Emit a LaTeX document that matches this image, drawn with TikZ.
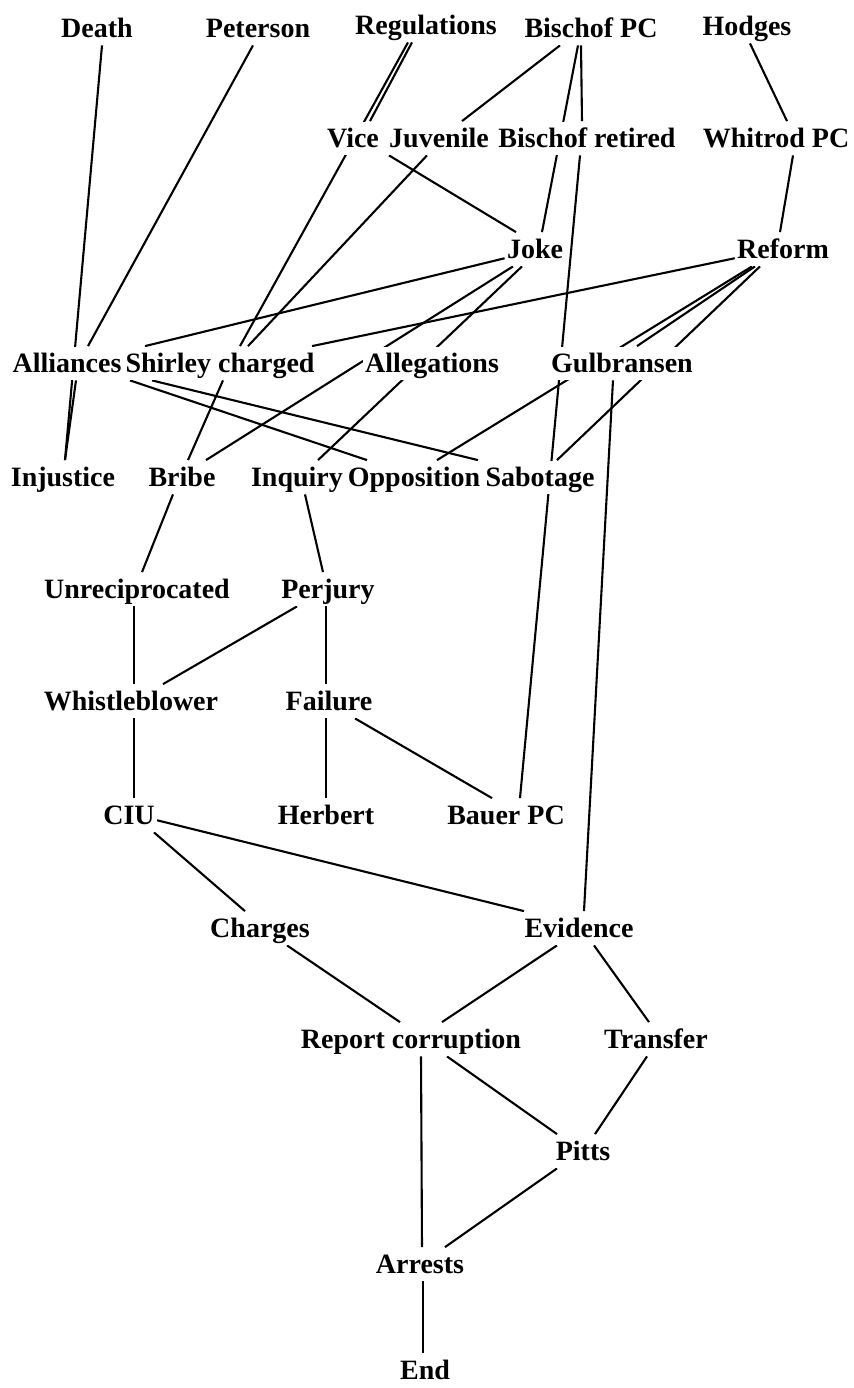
\documentclass[tikz,border=0pt]{standalone}
\usepackage{fontspec}
\setmainfont{Liberation Serif}
\usetikzlibrary{calc,backgrounds}

\tikzset{
  event/.style={font=\fontsize{14}{16}\selectfont\bfseries, fill=white,
    inner xsep=1pt, inner ysep=0pt, text height=12.75pt, text depth=4pt, anchor=base},
  link/.style={line width=1.05pt}
}

\begin{document}
\begin{tikzpicture}[x=0.5pt,y=-0.5pt]
  \useasboundingbox (0,0) rectangle (854,1388);
  % Rank 1
  \node[event] (death) at (97,37) {Death};
  \node[event] (peterson) at (258,37) {Peterson};
  \node[event] (regulations) at (426,34) {Regulations};
  \node[event] (bischofpc) at (591,37) {Bischof PC};
  \node[event] (hodges) at (747,35) {Hodges};
  % Rank 2
  \node[event] (vice) at (353,147) {Vice};
  \node[event] (juvenile) at (439,147) {Juvenile};
  \node[event] (bretired) at (587,147) {Bischof retired};
  \node[event] (whitrod) at (776,147) {Whitrod PC};
  % Rank 3
  \node[event] (joke) at (535,258) {Joke};
  \node[event] (reform) at (783,258) {Reform};
  % Rank 4
  \node[event] (alliances) at (67,372) {Alliances};
  \node[event] (shirley) at (220,372) {Shirley charged};
  \node[event] (allegations) at (432,372) {Allegations};
  \node[event] (gulbransen) at (622,372) {Gulbransen};
  % Rank 5
  \node[event] (injustice) at (63,486) {Injustice};
  \node[event] (bribe) at (182,486) {Bribe};
  \node[event] (inquiry) at (297,486) {Inquiry};
  \node[event] (opposition) at (414,486) {Opposition};
  \node[event] (sabotage) at (540,486) {Sabotage};
  % Rank 6 and 7
  \node[event] (unrecip) at (137,598) {Unreciprocated};
  \node[event] (perjury) at (328,598) {Perjury};
  \node[event] (whistle) at (131,710) {Whistleblower};
  \node[event] (failure) at (329,710) {Failure};
  % Rank 8
  \node[event] (ciu) at (129,824) {CIU};
  \node[event] (herbert) at (326,824) {Herbert};
  \node[event] (bauer) at (506,824) {Bauer PC};
  % Rank 9 and 10
  \node[event] (charges) at (260,937) {Charges};
  \node[event] (evidence) at (579,937) {Evidence};
  \node[event] (report) at (411,1048) {Report corruption};
  \node[event] (transfer) at (656,1048) {Transfer};
  % Last ranks
  \node[event] (pitts) at (583,1160) {Pitts};
  \node[event] (arrests) at (420,1273) {Arrests};
  \node[event] (fin) at (425,1379) {End};

  \begin{pgfonlayer}{background}
    % From the top rank
    \draw[link] ($(death.south)+(5,0)$) -- ($(injustice.north)+(2,0)$);
    \draw[link] ($(peterson.south)+(-5,0)$) -- ($(alliances.north)+(21,0)$);
    \draw[link] ($(regulations.south)+(-14,0)$) -- ($(vice.north)+(17,0)$);
    \draw[link] ($(regulations.south)+(-18,0)$) -- ($(shirley.north)+(20,0)$);
    \draw[link] ($(bischofpc.south)+(-31,0)$) -- ($(juvenile.north)+(23,0)$);
    \draw[link] ($(bischofpc.south)+(-13,0)$) -- ($(joke.north)+(7,0)$);
    \draw[link] ($(bischofpc.south)+(-10,0)$) -- ($(bretired.north)+(-5,0)$);
    \draw[link] ($(hodges.south)+(3,0)$) -- ($(whitrod.north)+(11,0)$);
    % Second rank
    \draw[link] ($(vice.south)+(36,0)$) -- ($(joke.north)+(-19,0)$);
    \draw[link] ($(juvenile.south)+(-12,0)$) -- ($(shirley.north)+(28,0)$);
    \draw[link] ($(bretired.south)+(-7,0)$) -- ($(bauer.north)+(14,0)$);
    \draw[link] ($(whitrod.south)+(17,0)$) -- ($(reform.north)+(-3,0)$);
    % Joke and Reform
    \draw[link] ($(joke.west)+(0,9)$) -- ($(shirley.north)+(-75,0)$);
    \draw[link] ($(joke.south)+(-22,0)$) -- ($(bribe.north)+(24,0)$);
    \draw[link] ($(joke.south)+(-13,0)$) -- ($(inquiry.north)+(21,0)$);
    \draw[link] ($(reform.west)+(0,9)$) -- ($(shirley.north)+(92,0)$);
    \draw[link] ($(reform.south)+(-31,0)$) -- ($(opposition.north)+(23,0)$);
    \draw[link] ($(reform.south)+(-28,0)$) -- ($(gulbransen.north)+(15,0)$);
    \draw[link] ($(reform.south)+(-23,0)$) -- ($(sabotage.north)+(17,0)$);
    % Fourth rank
    \draw[link] ($(alliances.south)+(9,0)$) -- ($(injustice.north)+(2,0)$);
    \draw[link] ($(alliances.south)+(63,0)$) -- ($(opposition.north)+(-47,0)$);
    \draw[link] ($(alliances.south)+(85,0)$) -- ($(sabotage.north)+(-62,0)$);
    \draw[link] ($(shirley.south)+(3,0)$) -- ($(bribe.north)+(6,0)$);
    \draw[link] ($(gulbransen.south)+(-9,0)$) -- ($(evidence.north)+(5,0)$);
    % Middle ranks
    \draw[link] ($(bribe.south)+(-9,0)$) -- ($(unrecip.north)+(5,0)$);
    \draw[link] ($(inquiry.south)+(8,0)$) -- ($(perjury.north)+(-5,0)$);
    \draw[link] ($(unrecip.south)+(-3,0)$) -- ($(whistle.north)+(3,0)$);
    \draw[link] ($(perjury.south)+(-31,0)$) -- ($(whistle.north)+(32,0)$);
    \draw[link] ($(perjury.south)+(-2,0)$) -- ($(failure.north)+(-3,0)$);
    \draw[link] ($(whistle.south)+(3,0)$) -- ($(ciu.north)+(5,0)$);
    \draw[link] ($(failure.south)+(-3,0)$) -- (herbert.north);
    \draw[link] ($(failure.south)+(26,0)$) -- ($(bauer.north)+(-14,0)$);
    % Lower ranks
    \draw[link] ($(ciu.south)+(25,0)$) -- ($(charges.north)+(-15,0)$);
    \draw[link] ($(ciu.east)+(0,5)$) -- ($(evidence.north)+(-55,0)$);
    \draw[link] ($(charges.south)+(27,0)$) -- ($(report.north)+(-11,0)$);
    \draw[link] ($(evidence.south)+(-22,0)$) -- ($(report.north)+(31,0)$);
    \draw[link] ($(evidence.south)+(15,0)$) -- ($(transfer.north)+(-7,0)$);
    \draw[link] ($(report.south)+(36,0)$) -- ($(pitts.north)+(-26,0)$);
    \draw[link] ($(transfer.south)+(-9,0)$) -- ($(pitts.north)+(12,0)$);
    \draw[link] ($(report.south)+(10,0)$) -- ($(arrests.north)+(2,0)$);
    \draw[link] ($(pitts.south)+(-26,0)$) -- ($(arrests.north)+(25,0)$);
    \draw[link] ($(arrests.south)+(3,0)$) -- ($(fin.north)+(-2,0)$);
  \end{pgfonlayer}
\end{tikzpicture}
\end{document}
